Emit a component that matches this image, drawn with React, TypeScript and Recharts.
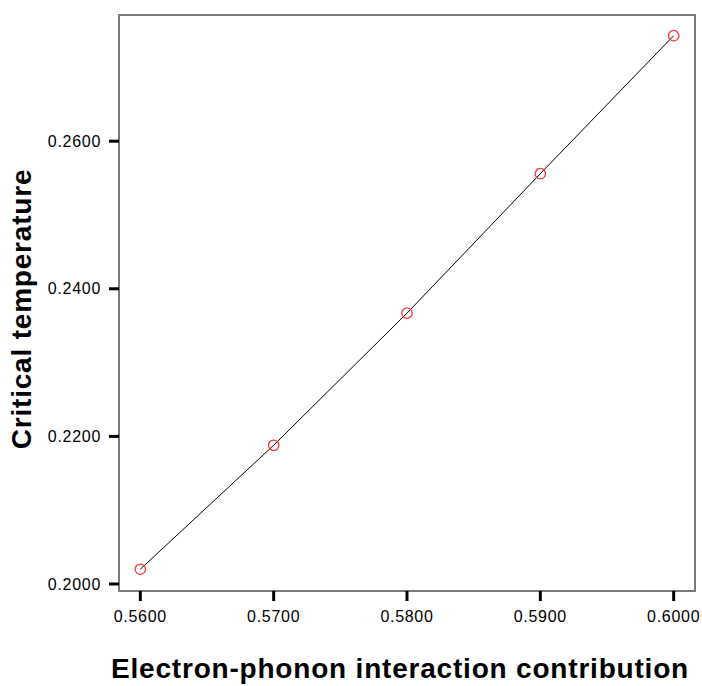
import React from "react";
import {
  LineChart,
  Line,
  XAxis,
  YAxis,
  ReferenceArea,
} from "recharts";

const xValues = [0.56, 0.57, 0.58, 0.59, 0.6];
const yValues = [0.202, 0.2188, 0.2367, 0.2556, 0.2743];
const xTicks = [0.56, 0.57, 0.58, 0.59, 0.6];
const yTicks = [0.2, 0.22, 0.24, 0.26];

const xDomain = [0.5584, 0.6016];
const yDomain = [0.19905, 0.2771];

const data = xValues.map((x, i) => ({ x, y: yValues[i] }));

const font = "Liberation Sans, Arial, sans-serif";

const RedDot = (props: any) => {
  const { cx, cy } = props;
  if (cx == null || cy == null) return null;
  return <circle cx={cx} cy={cy} r={5.2} fill="none" stroke="#ff3333" strokeWidth={1.3} />;
};

const YTitle = (props: any) => {
  const vb = props.viewBox || {};
  const cx = 21;
  const cy = vb.y + vb.height / 2 + 6;
  return (
    <text
      x={cx}
      y={cy}
      transform={`rotate(-90, ${cx}, ${cy})`}
      textAnchor="middle"
      dominantBaseline="central"
      fill="#000"
      fontSize={28}
      fontWeight="bold"
      letterSpacing={0.8}
      fontFamily={font}
    >
      Critical temperature
    </text>
  );
};

const XTitle = (props: any) => {
  const vb = props.viewBox || {};
  const cx = vb.x + vb.width / 2 - 7;
  return (
    <text
      x={cx}
      y={678}
      textAnchor="middle"
      fill="#000"
      fontSize={28}
      fontWeight="bold"
      letterSpacing={0.8}
      fontFamily={font}
    >
      Electron-phonon interaction contribution
    </text>
  );
};

const App: React.FC = () => {
  return (
    <div style={{ position: "absolute", left: 0, top: 0, background: "#fff" }}>
      <LineChart
        width={702}
        height={686}
        data={data}
        margin={{ top: 15, right: 7, bottom: 0, left: 0 }}
      >
        <ReferenceArea
          x1={xDomain[0]}
          x2={xDomain[1]}
          y1={yDomain[0]}
          y2={yDomain[1]}
          fill="none"
          stroke="#7a7a7a"
          strokeWidth={2}
          ifOverflow="visible"
        />
        <XAxis
          dataKey="x"
          type="number"
          domain={xDomain}
          ticks={xTicks}
          allowDataOverflow
          height={95}
          tickFormatter={(v: number) => v.toFixed(4)}
          axisLine={{ stroke: "#7a7a7a", strokeWidth: 2 }}
          tickLine={{ stroke: "#000", strokeWidth: 3 }}
          tickSize={10}
          tick={{ fill: "#000", fontSize: 16, fontFamily: font, letterSpacing: 0.7 }}
          tickMargin={10}
          label={<XTitle />}
        />
        <YAxis
          dataKey="y"
          type="number"
          domain={yDomain}
          ticks={yTicks}
          allowDataOverflow
          width={119}
          tickFormatter={(v: number) => v.toFixed(4)}
          axisLine={{ stroke: "#7a7a7a", strokeWidth: 2 }}
          tickLine={{ stroke: "#000", strokeWidth: 3 }}
          tickSize={10}
          tick={{ fill: "#000", fontSize: 16, fontFamily: font, letterSpacing: 0.7 }}
          tickMargin={8}
          label={<YTitle />}
        />
        <Line
          type="linear"
          dataKey="y"
          stroke="#000"
          strokeWidth={1}
          dot={<RedDot />}
          activeDot={false}
          isAnimationActive={false}
        />
      </LineChart>
    </div>
  );
};

export default App;
